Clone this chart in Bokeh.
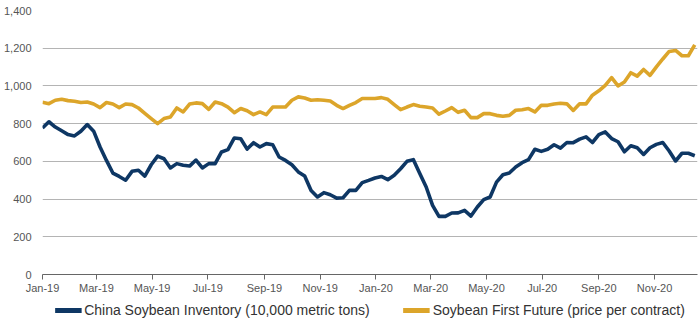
import pandas as pd
from bokeh.plotting import figure
from bokeh.layouts import column
from bokeh.models import (Range1d, FixedTicker, DatetimeTickFormatter, Legend,
                          LegendItem, NumeralTickFormatter)
from bokeh.embed import file_html
from bokeh.resources import INLINE

# ---- data (weekly) ----
start_date = "2019-01-01"
n_weeks = 103

inventory = [
    777, 810, 782, 762, 742, 735, 760, 795, 760, 676,
    605, 538, 520, 500, 547, 553, 522, 582, 628, 614,
    565, 588, 579, 575, 607, 565, 588, 588, 650, 662,
    724, 720, 665, 699, 676, 694, 688, 623, 605, 582,
    544, 522, 446, 411, 434, 423, 405, 407, 446, 446,
    487, 499, 512, 520, 503, 526, 561, 600, 609, 535,
    464, 367, 308, 308, 326, 327, 340, 310, 358, 397,
    411, 490, 529, 538, 570, 593, 609, 664, 653, 664,
    688, 670, 700, 699, 718, 730, 700, 742, 756, 721,
    704, 651, 683, 672, 637, 672, 690, 700, 655, 602,
    643, 643, 630,
]

future = [
    913, 906, 924, 929, 922, 919, 912, 915, 904, 885,
    912, 904, 885, 904, 901, 883, 855, 827, 800, 827,
    835, 883, 862, 904, 910, 906, 876, 915, 906, 888,
    858, 880, 868, 848, 862, 848, 888, 888, 888, 924,
    942, 936, 924, 927, 924, 920, 897, 880, 897, 912,
    933, 933, 933, 938, 929, 901, 874, 888, 901, 892,
    888, 883, 850, 867, 885, 860, 871, 832, 832, 853,
    853, 844, 839, 844, 871, 874, 880, 862, 897, 897,
    904, 908, 905, 870, 905, 905, 951, 974, 1003, 1044,
    1000, 1021, 1070, 1052, 1087, 1056, 1101, 1143, 1183, 1188,
    1160, 1160, 1218,
]

tick_months = ["2019-01-01", "2019-03-01", "2019-05-01", "2019-07-01",
               "2019-09-01", "2019-11-01", "2020-01-01", "2020-03-01",
               "2020-05-01", "2020-07-01", "2020-09-01", "2020-11-01"]
y_ticks = [0, 200, 400, 600, 800, 1000, 1200, 1400]

series_labels = ["China Soybean Inventory (10,000 metric tons)",
                 "Soybean First Future (price per contract)"]

NAVY = "#0e3764"
GOLD = "#dca52a"
FONT = "Liberation Sans"

dates = pd.date_range(start_date, periods=n_weeks, freq="7D")

# ---------------- main chart ----------------
p = figure(width=700, height=296, x_axis_type="datetime",
           output_backend="svg", toolbar_location=None,
           min_border_left=37, min_border_right=3, min_border_top=10,
           min_border_bottom=0)
p.x_range = Range1d(dates[0], dates[-1] + pd.Timedelta(days=3))
p.y_range = Range1d(0, 1400)
p.outline_line_color = None
p.background_fill_color = "white"
p.border_fill_color = "white"

p.line(dates, inventory, color=NAVY, line_width=3.6, line_join="round")
p.line(dates, future, color=GOLD, line_width=3.6, line_join="round")

p.xgrid.visible = False
p.ygrid.grid_line_color = "#b4b4b4"
p.ygrid.grid_line_width = 1

yax = p.yaxis[0]
yax.ticker = FixedTicker(ticks=y_ticks)
yax.formatter = NumeralTickFormatter(format="0,0")
yax.axis_line_color = None
yax.major_tick_line_color = None
yax.minor_tick_line_color = None
yax.major_label_text_font = FONT
yax.major_label_text_font_size = "11px"
yax.major_label_text_color = "#555555"
yax.major_label_standoff = 5

xax = p.xaxis[0]
xax.ticker = FixedTicker(ticks=[pd.Timestamp(t).value / 1e6 for t in tick_months])
fmt = "%b-%y"
xax.formatter = DatetimeTickFormatter(days=fmt, months=fmt, years=fmt,
                                      hours=fmt, minutes=fmt, seconds=fmt,
                                      milliseconds=fmt, microseconds=fmt,
                                      hourmin=fmt, minsec=fmt)
xax.axis_line_color = "#666666"
xax.axis_line_width = 1.2
xax.major_tick_line_color = "#666666"
xax.major_tick_out = 5
xax.major_tick_in = 0
xax.minor_tick_line_color = None
xax.major_label_text_font = FONT
xax.major_label_text_font_size = "11px"
xax.major_label_text_color = "#555555"
xax.major_label_standoff = 2

# ---------------- legend strip ----------------
lf = figure(width=700, height=27, output_backend="svg", toolbar_location=None,
            x_axis_location=None, y_axis_location=None,
            min_border=0, min_border_left=0, min_border_right=0,
            min_border_top=0, min_border_bottom=0,
            x_range=Range1d(0, 1), y_range=Range1d(0, 1))
lf.outline_line_color = None
lf.xgrid.visible = False
lf.ygrid.visible = False
lf.border_fill_color = "white"
lf.background_fill_color = "white"

# swatch renderers kept outside the strip's visible range
d1 = lf.line(x=[-5, -4], y=[-5, -5], color=NAVY, line_width=5)
d2 = lf.line(x=[-5, -4], y=[-5, -5], color=GOLD, line_width=5)

legend = Legend(items=[LegendItem(label=series_labels[0], renderers=[d1]),
                       LegendItem(label=series_labels[1], renderers=[d2])],
                orientation="horizontal", location="center",
                border_line_color=None, background_fill_alpha=0,
                label_text_font=FONT, label_text_font_size="14px",
                label_text_color="#333333", label_height=16,
                glyph_width=27, glyph_height=10, spacing=33,
                padding=0, margin=0, label_standoff=3)
lf.add_layout(legend)

open("out.html", "w").write(file_html(column(p, lf, spacing=0), INLINE))
